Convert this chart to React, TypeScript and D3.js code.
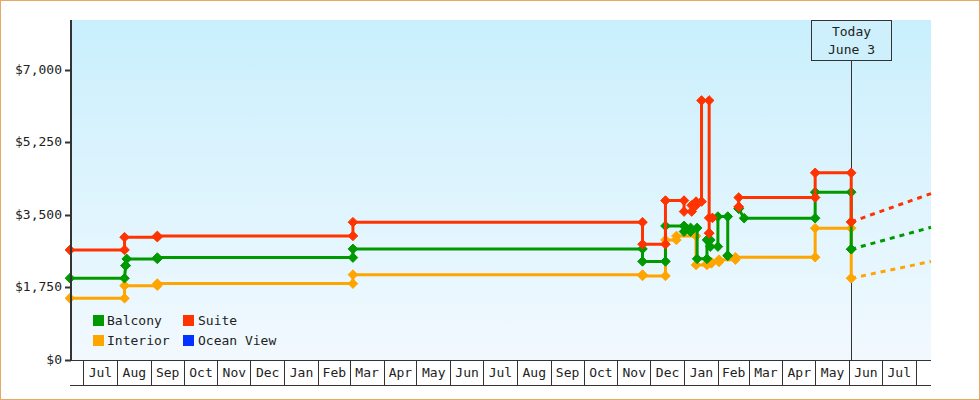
import React, { useEffect, useRef } from 'react';
import * as d3 from 'd3';

// [start, end, price] levels; null = gap in the history
type Level = [string, string, number] | null;

const domainStart = '2023-06-20';
const domainEnd = '2025-08-15';
const todayDate = '2025-06-03';
const todayLabel = ['Today', 'June 3'];
const yMax = 8200;
const yTicks = [0, 1750, 3500, 5250, 7000];

const balconyLevels: Level[] = [
  ['2023-06-19', '2023-08-08', 1972],
  ['2023-08-09', '2023-08-09', 2276],
  ['2023-08-10', '2023-09-07', 2438],
  ['2023-09-07', '2024-03-04', 2470],
  ['2024-03-04', '2024-11-24', 2679],
  ['2024-11-24', '2024-12-15', 2378],
  ['2024-12-15', '2025-01-01', 3234],
  ['2025-01-01', '2025-01-07', 3097],
  ['2025-01-07', '2025-01-13', 3186],
  ['2025-01-13', '2025-01-22', 2440],
  ['2025-01-22', '2025-01-25', 2897],
  ['2025-01-25', '2025-02-01', 2735],
  ['2025-02-01', '2025-02-10', 3459],
  ['2025-02-10', '2025-02-10', 2517],
  null,
  ['2025-02-20', '2025-02-20', 3650],
  ['2025-02-25', '2025-05-01', 3420],
  ['2025-05-01', '2025-06-03', 4048],
  ['2025-06-03', '2025-06-03', 2672],
];

const suiteLevels: Level[] = [
  ['2023-06-19', '2023-08-08', 2655],
  ['2023-08-08', '2023-09-07', 2962],
  ['2023-09-07', '2024-03-04', 2993],
  ['2024-03-04', '2024-11-24', 3324],
  ['2024-11-24', '2024-12-15', 2793],
  ['2024-12-15', '2025-01-01', 3845],
  ['2025-01-01', '2025-01-08', 3580],
  ['2025-01-08', '2025-01-12', 3730],
  ['2025-01-12', '2025-01-17', 3821],
  ['2025-01-17', '2025-01-24', 6259],
  ['2025-01-24', '2025-01-24', 3058],
  ['2025-01-24', '2025-01-27', 3427],
  null,
  ['2025-02-20', '2025-02-20', 3693],
  ['2025-02-20', '2025-05-01', 3918],
  ['2025-05-01', '2025-06-03', 4514],
  ['2025-06-03', '2025-06-03', 3331],
];

const interiorLevels: Level[] = [
  ['2023-06-19', '2023-08-08', 1489],
  ['2023-08-08', '2023-09-07', 1793],
  ['2023-09-07', '2024-03-04', 1842],
  ['2024-03-04', '2024-11-24', 2059],
  ['2024-11-24', '2024-12-15', 2028],
  ['2024-12-15', '2024-12-25', 2897],
  ['2024-12-25', '2025-01-12', 2990],
  ['2025-01-12', '2025-01-22', 2293],
  ['2025-01-22', '2025-01-26', 2330],
  ['2025-01-26', '2025-02-02', 2365],
  ['2025-02-02', '2025-02-17', 2420],
  ['2025-02-17', '2025-05-01', 2479],
  ['2025-05-01', '2025-06-03', 3179],
  ['2025-06-03', '2025-06-03', 1972],
];

const oceanViewLevels: Level[] = [];

// projected price at the end of the axis
const forecastValues = { Balcony: 3200, Suite: 4014, Interior: 2377, 'Ocean View': null };

const legendNames = ['Balcony', 'Suite', 'Interior', 'Ocean View'];
const colors: Record<string, string> = {
  Balcony: '#009900',
  Suite: '#ff3300',
  Interior: '#ffa500',
  'Ocean View': '#0033ff',
};

const FONT = '"DejaVu Sans Mono", "Liberation Mono", monospace';
const INK = '#333';

export default function App() {
  const svgRef = useRef<SVGSVGElement>(null);

  useEffect(() => {
    if (!svgRef.current) return;
    const svg = d3.select(svgRef.current);
    svg.selectAll('*').remove();

    const parse = d3.timeParse('%Y-%m-%d');
    const left = 71, right = 931, top = 20, bottom = 360;
    const t0 = parse(domainStart)!, t1 = parse(domainEnd)!;
    const x = d3.scaleTime().domain([t0, t1]).range([left, right]);
    const y = d3.scaleLinear().domain([0, yMax]).range([bottom, top]);

    // outer frame
    svg.append('rect')
      .attr('x', 0.5).attr('y', 0.5).attr('width', 979).attr('height', 399)
      .attr('fill', '#fff').attr('stroke', '#e8a865');

    const defs = svg.append('defs');
    const grad = defs.append('linearGradient')
      .attr('id', 'plotBg').attr('x1', 0).attr('y1', 0).attr('x2', 0).attr('y2', 1);
    grad.append('stop').attr('offset', '0%').attr('stop-color', '#c9effd');
    grad.append('stop').attr('offset', '100%').attr('stop-color', '#f2f9fe');

    svg.append('rect')
      .attr('x', left).attr('y', top)
      .attr('width', right - left).attr('height', bottom - top)
      .attr('fill', 'url(#plotBg)');

    // month strip below the plot
    const months = d3.timeMonth.range(t0, t1);
    const fmt = d3.timeFormat('%b');
    const strip = svg.append('g');
    strip.append('line')
      .attr('x1', left - 1).attr('x2', right)
      .attr('y1', 385.5).attr('y2', 385.5)
      .attr('stroke', INK);
    months.forEach((m) => {
      const px = Math.round(x(m)) + 0.5;
      strip.append('line')
        .attr('x1', px).attr('x2', px)
        .attr('y1', bottom).attr('y2', 385.5)
        .attr('stroke', INK);
      const next = d3.timeMonth.offset(m, 1);
      if (next <= t1) {
        strip.append('text')
          .attr('x', (x(m) + x(next)) / 2 + 0.5)
          .attr('y', 373)
          .attr('text-anchor', 'middle')
          .attr('dominant-baseline', 'middle')
          .attr('font-family', FONT)
          .attr('font-size', 13)
          .attr('fill', '#222')
          .text(fmt(m));
      }
    });

    // x axis line
    svg.append('line')
      .attr('x1', left).attr('x2', right)
      .attr('y1', bottom + 0.5).attr('y2', bottom + 0.5)
      .attr('stroke', INK);

    // today marker
    const tx = Math.round(x(parse(todayDate)!)) + 0.5;
    svg.append('line')
      .attr('x1', tx).attr('x2', tx).attr('y1', 61).attr('y2', bottom)
      .attr('stroke', INK);

    // series
    const line = d3.line<{ d: Date; v: number } | null>()
      .defined((p) => p !== null)
      .x((p) => x(p!.d))
      .y((p) => y(p!.v));

    const drawOrder: [string, Level[]][] = [
      ['Ocean View', oceanViewLevels],
      ['Interior', interiorLevels],
      ['Balcony', balconyLevels],
      ['Suite', suiteLevels],
    ];

    const diamond = (cx: number, cy: number, r: number) =>
      `M${cx},${cy - r}L${cx + r},${cy}L${cx},${cy + r}L${cx - r},${cy}Z`;

    drawOrder.forEach(([name, levels]) => {
      const pts = levels.flatMap((l) =>
        l === null ? [null] : [{ d: parse(l[0])!, v: l[2] }, { d: parse(l[1])!, v: l[2] }]
      );
      const g = svg.append('g');
      const color = colors[name];
      const real = pts.filter((p) => p !== null) as { d: Date; v: number }[];
      if (!real.length) return;

      const fv = (forecastValues as any)[name];
      if (fv != null) {
        const last = real[real.length - 1];
        g.append('path')
          .attr('d', line([last, { d: t1, v: fv }]))
          .attr('fill', 'none')
          .attr('stroke', color)
          .attr('stroke-width', 3)
          .attr('stroke-dasharray', '5 5');
      }

      g.append('path')
        .attr('d', line(pts))
        .attr('fill', 'none')
        .attr('stroke', color)
        .attr('stroke-width', 3)
        .attr('stroke-linejoin', 'round');

      g.selectAll('path.mk')
        .data(real)
        .join('path')
        .attr('class', 'mk')
        .attr('d', (p) => diamond(x(p.d), y(p.v), 4.8))
        .attr('fill', color)
        .attr('stroke', color)
        .attr('stroke-width', 1)
        .attr('stroke-linejoin', 'round');
    });

    // y axis
    svg.append('line')
      .attr('x1', left).attr('x2', left).attr('y1', top).attr('y2', bottom + 1)
      .attr('stroke', INK).attr('stroke-width', 2);
    const yt = svg.append('g');
    yTicks.forEach((v) => {
      const py = Math.round(y(v)) + 0.5;
      yt.append('line')
        .attr('x1', left - 6).attr('x2', left).attr('y1', py).attr('y2', py)
        .attr('stroke', INK).attr('stroke-width', 2);
      yt.append('text')
        .attr('x', left - 9).attr('y', py)
        .attr('text-anchor', 'end')
        .attr('dominant-baseline', 'middle')
        .attr('font-family', FONT).attr('font-size', 13)
        .attr('fill', '#222')
        .text(d3.format('$,')(v));
    });

    // today box
    svg.append('rect')
      .attr('x', 811.5).attr('y', 20.5).attr('width', 80).attr('height', 40)
      .attr('fill', '#cdf0fc').attr('stroke', INK);
    todayLabel.forEach((s, i) => {
      svg.append('text')
        .attr('x', tx).attr('y', 32 + i * 18)
        .attr('text-anchor', 'middle')
        .attr('dominant-baseline', 'middle')
        .attr('font-family', FONT).attr('font-size', 13)
        .attr('fill', '#222')
        .text(s);
    });

    // legend
    const lg = svg.append('g');
    legendNames.forEach((name, i) => {
      const col = i % 2, row = Math.floor(i / 2);
      const lx = 93 + col * 90, ly = 315 + row * 20;
      lg.append('rect')
        .attr('x', lx).attr('y', ly).attr('width', 11).attr('height', 11)
        .attr('fill', colors[name]);
      lg.append('text')
        .attr('x', lx + 14 + col).attr('y', ly + 6)
        .attr('dominant-baseline', 'middle')
        .attr('font-family', FONT).attr('font-size', 13)
        .attr('fill', '#222')
        .text(name);
    });
  }, []);

  return (
    <svg
      ref={svgRef}
      width={980}
      height={400}
      style={{ position: 'absolute', left: 0, top: 0 }}
    />
  );
}
